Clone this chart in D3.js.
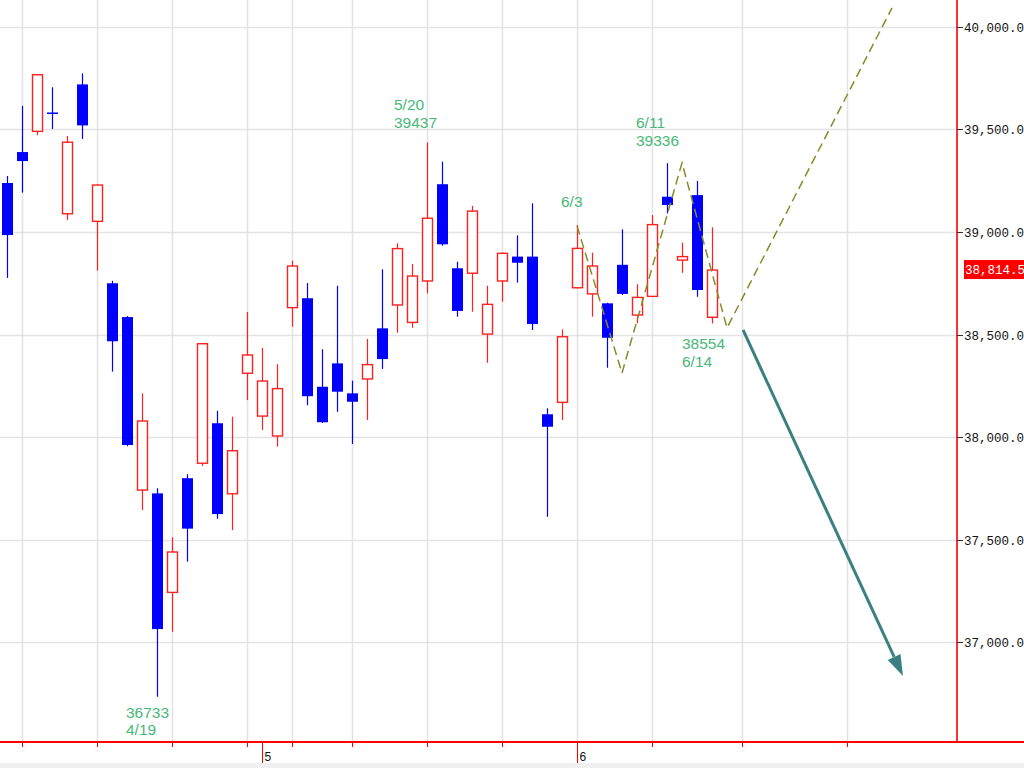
<!DOCTYPE html>
<html>
<head>
<meta charset="utf-8">
<script src="https://cdn.jsdelivr.net/npm/d3@7"></script>
<style>
  html, body { margin: 0; padding: 0; background: #fff; }
  svg { display: block; }
</style>
</head>
<body>
<svg id="chart" width="1024" height="768"></svg>
<script>
// ---------------- DATA ----------------
const dates = ["4/5","4/8","4/9","4/10","4/11","4/12","4/15","4/16","4/17","4/18","4/19",
  "4/22","4/23","4/24","4/25","4/26","4/30","5/1","5/2","5/7","5/8","5/9","5/10",
  "5/13","5/14","5/15","5/16","5/17","5/20","5/21","5/22","5/23","5/24","5/27","5/28",
  "5/29","5/30","5/31","6/3","6/4","6/5","6/6","6/7","6/10","6/11","6/12","6/13","6/14"];
const opens  = [39239,39390,39491,39583,39089,39720,39052,38750,38585,37741,37725,37242,37799,37872,38067,37723,
  38311,38102,38005,38631,38677,38245,38359,38213,38283,38530,38644,38559,38761,39233,38823,38799,38502,38761,
  38880,38880,38111,38169,38728,38698,38652,38840,38595,38686,39172,38863,39180,38584];
const highs  = [39273,39616,39770,39706,39468,39774,39232,38762,38590,38213,37750,37511,37818,38458,38128,38099,
  38610,38434,38355,38860,38751,38428,38738,38275,38478,38818,38945,38844,39437,39343,38855,39127,38738,38900,
  38984,39140,38140,38525,39034,38899,38655,39013,38745,39083,39336,38948,39249,39023];
const lows   = [38776,39192,39472,39502,39059,39454,38811,38319,37955,37644,36733,37050,37392,37859,37601,37546,
  38180,38034,37953,38538,38155,38068,38123,37966,38083,38332,38509,38533,38701,38933,38587,38611,38362,38660,
  38753,38522,37611,38083,38725,38587,38338,38693,38555,38683,39091,38801,38684,38554];
const closes = [38985,39346,39767,39578,39438,39520,39229,38467,37961,38078,37063,37439,37553,38455,37624,37933,
  38400,38273,38236,38834,38199,38072,38221,38172,38353,38380,38919,38785,39067,38940,38615,39102,38647,38896,
  38850,38551,38050,38489,38920,38834,38484,38698,38681,39036,39132,38880,38717,38814.5];

// future (calendar-day) slots after the last session
const futureDates = ["6/16","6/17","6/18","6/19","6/20","6/21","6/22","6/23","6/24","6/25","6/26","6/27","6/28","6/29","6/30"];

const yTickValues = [37000, 37500, 38000, 38500, 39000, 39500, 40000];
const monthLabels = [{date: "5/1", label: "5"}, {date: "6/3", label: "6"}];
const lastPrice = 38814.5;

// annotated points (date, value, two text lines)
const annotations = [
  {date: "5/20", lines: ["5/20", "39437"]},
  {date: "4/19", lines: ["36733", "4/19"]},
  {date: "6/3",  lines: ["6/3"]},
  {date: "6/11", lines: ["6/11", "39336"]},
  {date: "6/14", lines: ["38554", "6/14"]}
];

// hand-drawn wave (dashed) : [date slot, price]
const waveDates  = ["6/3", "6/6", "6/12", "6/16", "6/27"];
const waveValues = [39030, 38312, 39337, 38532, 40093];
// arrow : start/end in slot units and price
const arrowSlots  = [49.07, 59.73];
const arrowValues = [38522, 36834];

// ---------------- CHART ----------------
const W = 1024, H = 768;
const plotRight = 957, plotBottom = 742;
const svg = d3.select("#chart");

const allSlots = dates.concat(futureDates);
const slotIndex = d => allSlots.indexOf(d);

const x = d3.scaleLinear().domain([0, 1]).range([7, 22]);
const y = d3.scaleLinear().domain([37000, 40000]).range([642, 27]);

svg.append("rect").attr("width", W).attr("height", H).attr("fill", "#fff");

// week starts
function parseD(s) { const [m, d] = s.split("/").map(Number); return new Date(2024, m - 1, d); }
function weekKey(s) { const dt = parseD(s); const day = (dt.getDay() + 6) % 7; const mon = new Date(dt); mon.setDate(dt.getDate() - day); return mon.getTime(); }
const weekStarts = [];
allSlots.forEach((s, i) => { if (i > 0 && weekKey(s) !== weekKey(allSlots[i - 1])) weekStarts.push(i); });

const defs = svg.append("defs");
defs.append("clipPath").attr("id", "plotclip").append("rect")
  .attr("x", 0).attr("y", 0).attr("width", plotRight).attr("height", plotBottom);

const grid = svg.append("g");
grid.selectAll("line.h").data(yTickValues).join("line")
  .attr("x1", 0).attr("x2", plotRight)
  .attr("y1", d => Math.round(y(d)) + 0.5).attr("y2", d => Math.round(y(d)) + 0.5)
  .attr("stroke", "#e3e3e3").attr("stroke-width", 1.6);
grid.selectAll("line.v").data(weekStarts).join("line")
  .attr("x1", d => Math.round(x(d)) + 0.5).attr("x2", d => Math.round(x(d)) + 0.5)
  .attr("y1", 0).attr("y2", plotBottom)
  .attr("stroke", "#e3e3e3").attr("stroke-width", 1.6);

const plot = svg.append("g").attr("clip-path", "url(#plotclip)");

// candles
const candles = dates.map((d, i) => ({i, o: opens[i], h: highs[i], l: lows[i], c: closes[i]}));
const cg = plot.append("g");
candles.forEach(k => {
  const up = k.c >= k.o;
  const col = up ? "#ff2020" : "#0000ff";
  const cx = Math.round(x(k.i)) + 0.5;
  cg.append("line").attr("x1", cx).attr("x2", cx)
    .attr("y1", y(k.h)).attr("y2", y(k.l)).attr("stroke", col).attr("stroke-width", 1.2);
  const top = y(Math.max(k.o, k.c)), bot = y(Math.min(k.o, k.c));
  if (up) {
    cg.append("rect").attr("x", cx - 5).attr("y", top).attr("width", 10).attr("height", Math.max(bot - top, 1))
      .attr("fill", "#fff").attr("stroke", col).attr("stroke-width", 1.4);
  } else {
    cg.append("rect").attr("x", cx - 5.5).attr("y", top).attr("width", 11).attr("height", Math.max(bot - top, 1.5))
      .attr("fill", col);
  }
});

// dashed wave
plot.append("path")
  .datum(waveDates.map((d, i) => [slotIndex(d), waveValues[i]]))
  .attr("d", d3.line().x(d => x(d[0])).y(d => y(d[1])))
  .attr("fill", "none").attr("stroke", "#8a8a2a").attr("stroke-width", 1.5)
  .attr("stroke-dasharray", "9,5");

// arrow
const ax1 = x(arrowSlots[0]), ay1 = y(arrowValues[0]);
const ax2 = x(arrowSlots[1]), ay2 = y(arrowValues[1]);
const ang = Math.atan2(ay2 - ay1, ax2 - ax1);
const headLen = 21, headW = 7;
const bx = ax2 - headLen * Math.cos(ang), by = ay2 - headLen * Math.sin(ang);
plot.append("line").attr("x1", ax1).attr("y1", ay1).attr("x2", bx).attr("y2", by)
  .attr("stroke", "#3a8080").attr("stroke-width", 3);
plot.append("path")
  .attr("d", `M${ax2},${ay2} L${bx + headW * Math.sin(ang)},${by - headW * Math.cos(ang)} L${bx - headW * Math.sin(ang)},${by + headW * Math.cos(ang)} Z`)
  .attr("fill", "#3a8080");

// annotations
const annStyle = {
  "5/20": {dx: -33, dy: -32, ref: "h"},
  "4/19": {dx: -31, dy: 21, ref: "l"},
  "6/3":  {dx: -16, dy: -18, ref: "h"},
  "6/11": {dx: -31, dy: -35, ref: "h"},
  "6/14": {dx: -30, dy: 26, ref: "l"}
};
const ag = svg.append("g").attr("font-family", "'Liberation Sans', Arial, sans-serif")
  .attr("font-size", 15.5).attr("fill", "#48b878");
annotations.forEach(a => {
  const i = dates.indexOf(a.date);
  const st = annStyle[a.date];
  const v = st.ref === "h" ? highs[i] : lows[i];
  const t = ag.append("text").attr("x", x(i) + st.dx).attr("y", y(v) + st.dy);
  a.lines.forEach((ln, j) => t.append("tspan").attr("x", x(i) + st.dx).attr("dy", j === 0 ? 0 : 17.5).text(ln));
});

// axes
svg.append("line").attr("x1", plotRight).attr("x2", plotRight).attr("y1", 0).attr("y2", plotBottom + 1)
  .attr("stroke", "#ff0000").attr("stroke-width", 1.6);
svg.append("line").attr("x1", 0).attr("x2", W).attr("y1", plotBottom).attr("y2", plotBottom)
  .attr("stroke", "#ff0000").attr("stroke-width", 2);

const fmt = d3.format(",.1f");
const yg = svg.append("g").attr("font-family", "'Liberation Mono', 'DejaVu Sans Mono', monospace")
  .attr("font-size", 12.5).attr("fill", "#111");
yTickValues.forEach(v => {
  const yy = Math.round(y(v)) + 0.5;
  yg.append("line").attr("x1", plotRight).attr("x2", plotRight + 6).attr("y1", yy).attr("y2", yy)
    .attr("stroke", "#333").attr("stroke-width", 1);
  yg.append("text").attr("x", plotRight + 7).attr("y", yy + 4.5).text(fmt(v));
});

// current price label
const ly = y(lastPrice);
svg.append("rect").attr("x", plotRight + 7).attr("y", ly - 10).attr("width", W - plotRight - 7).attr("height", 19)
  .attr("fill", "#ff0000");
svg.append("text").attr("x", plotRight + 8).attr("y", ly + 4)
  .attr("font-family", "'Liberation Mono', 'DejaVu Sans Mono', monospace").attr("font-size", 12.5)
  .attr("fill", "#fff").text(fmt(lastPrice));

// x ticks
const xg = svg.append("g");
weekStarts.forEach(i => {
  const xx = Math.round(x(i)) + 0.5;
  xg.append("line").attr("x1", xx).attr("x2", xx).attr("y1", plotBottom).attr("y2", plotBottom + 5)
    .attr("stroke", "#ff0000").attr("stroke-width", 1);
});
monthLabels.forEach(m => {
  const xx = Math.round(x(slotIndex(m.date))) + 0.5;
  xg.append("line").attr("x1", xx).attr("x2", xx).attr("y1", plotBottom).attr("y2", plotBottom + 21)
    .attr("stroke", "#ff0000").attr("stroke-width", 1);
  xg.append("text").attr("x", xx + 2).attr("y", plotBottom + 19)
    .attr("font-family", "'Liberation Sans Narrow', 'Liberation Sans', Arial, sans-serif")
    .attr("font-size", 12).attr("fill", "#111").text(m.label);
});

// bottom strip
svg.append("rect").attr("x", 0).attr("y", 763).attr("width", W).attr("height", 5).attr("fill", "#f0f0f0");
</script>
</body>
</html>
